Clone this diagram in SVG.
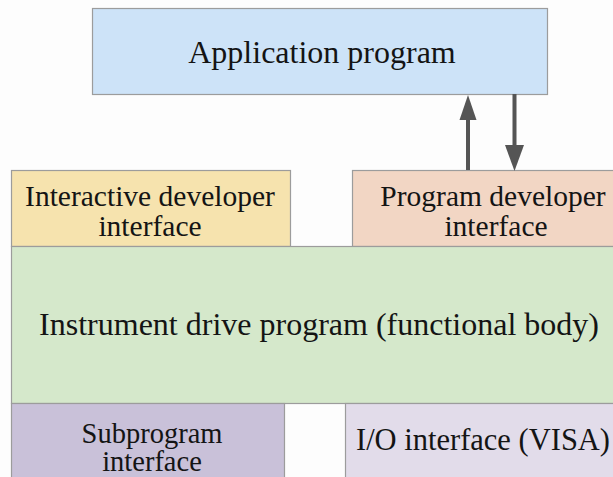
<svg xmlns="http://www.w3.org/2000/svg" width="613" height="477" viewBox="0 0 613 477">
  <style>
    .box { stroke: #9c9c9c; stroke-width: 1.2; }
    .lbl { font-family: "Liberation Serif", "Times New Roman", serif; fill: #141414; text-anchor: middle; }
    .arrow { fill: #555555; }
  </style>
  <rect width="613" height="477" fill="#fdfdfd"/>

  <g id="application">
    <rect class="box" x="92.5" y="8.5" width="455" height="86" fill="#cde3f8"/>
    <text class="lbl" x="322" y="63" font-size="32">Application program</text>
  </g>

  <g id="interactive-dev">
    <rect class="box" x="11.5" y="170.5" width="279" height="76" fill="#f6e3ae"/>
    <text class="lbl" x="150" y="206" font-size="29.5">Interactive developer</text>
    <text class="lbl" x="150" y="236" font-size="29.5">interface</text>
  </g>

  <g id="program-dev">
    <rect class="box" x="352.5" y="170.5" width="265" height="76" fill="#f2d6c4"/>
    <text class="lbl" x="493" y="206" font-size="29.5">Program developer</text>
    <text class="lbl" x="496" y="236" font-size="29.5">interface</text>
  </g>

  <g id="driver-body">
    <rect class="box" x="11.5" y="246.5" width="606" height="157" fill="#d5e8cb"/>
    <text class="lbl" x="319" y="335" font-size="32">Instrument drive program (functional body)</text>
  </g>

  <g id="subprogram">
    <rect class="box" x="11.5" y="403.5" width="273" height="80" fill="#c9c1d9"/>
    <text class="lbl" x="152" y="443" font-size="28.5">Subprogram</text>
    <text class="lbl" x="152" y="471" font-size="28.5">interface</text>
  </g>

  <g id="io-visa">
    <rect class="box" x="345.5" y="403.5" width="272" height="80" fill="#e2dcea"/>
    <text class="lbl" x="483" y="450" font-size="30.5">I/O interface (VISA)</text>
  </g>

  <g id="connectors">
    <!-- upward call: developer interface to application -->
    <rect class="arrow" x="466" y="119" width="4" height="51"/>
    <polygon class="arrow" points="468,95 459.5,120 476.5,120"/>
    <!-- downward return: application to developer interface -->
    <rect class="arrow" x="512.5" y="94" width="4" height="52"/>
    <polygon class="arrow" points="505,145 524,145 514.5,171"/>
  </g>
</svg>
